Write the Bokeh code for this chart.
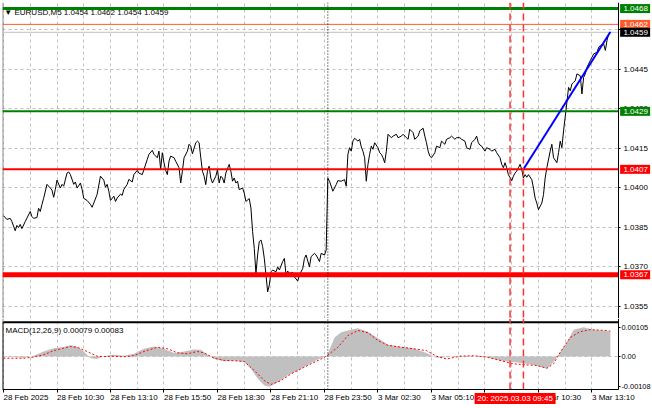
from bokeh.plotting import figure
from bokeh.models import Range1d, FixedTicker, Span, PrintfTickFormatter, CustomJSTickFormatter
from bokeh.layouts import column
from bokeh.embed import file_html
from bokeh.resources import INLINE
from bokeh.core.properties import value

FONT = "Liberation Sans"
FS = "8px"

# ---- price series (M5 bar index from 28 Feb 07:50, close) ----
bar_idx = [0, 2, 4, 5, 7, 8, 9, 10, 11, 13, 14, 16, 17, 18, 20, 21, 22, 23, 24, 26,
           28, 29, 30, 31, 32, 34, 35, 36, 38, 39, 40, 42, 43, 44, 46, 47, 48, 50, 52, 53,
           54, 56, 58, 60, 61, 62, 63, 64, 66, 67, 68, 70, 71, 72, 74, 75, 77, 78, 80, 81,
           83, 84, 86, 87, 89, 90, 92, 93, 94, 95, 96, 97, 98, 99, 100, 102, 103, 105, 106, 107,
           108, 110, 111, 112, 113, 115, 116, 117, 118, 119, 120, 121, 122, 123, 124, 125, 127, 128, 129, 130,
           131, 132, 133, 135, 136, 137, 138, 139, 140, 141, 143, 144, 145, 147, 148, 149, 150, 151, 152, 153,
           154, 155, 156, 157, 158, 159, 160, 161, 163, 164, 165, 167, 168, 169, 170, 171, 173, 174, 176, 177,
           179, 180, 181, 183, 184, 186, 187, 189, 190, 192, 193, 194, 195, 197, 199, 200, 202, 204, 205, 206,
           207, 208, 209, 210, 212, 213, 214, 215, 216, 217, 218, 219, 220, 221, 222, 224, 225, 226, 227, 228,
           229, 230, 232, 233, 235, 236, 238, 239, 241, 242, 243, 245, 246, 248, 249, 251, 252, 253, 254, 255,
           256, 258, 259, 261, 262, 264, 265, 267, 268, 270, 271, 273, 274, 276, 277, 279, 280, 282, 283, 284,
           285, 286, 288, 289, 291, 292, 294, 295, 297, 298, 299, 300, 301, 302, 304, 305, 306, 307, 308, 309,
           310, 311, 312, 313, 314, 316, 317, 318, 319, 320, 322, 323, 324, 325, 327, 328, 329, 331, 332, 333,
           334, 335, 337, 338, 339, 340, 341, 342, 343, 345, 346, 347, 348, 349, 351, 352, 353, 355, 356, 357,
           359, 360, 361, 362, 363]
close = [1.03894, 1.03880, 1.03884, 1.03872, 1.03837, 1.03857, 1.03849, 1.03861, 1.03845, 1.03872,
         1.03885, 1.03910, 1.03891, 1.03884, 1.03887, 1.03922, 1.03910, 1.03937, 1.03960, 1.04013,
         1.03999, 1.03991, 1.03964, 1.03994, 1.04029, 1.03999, 1.04013, 1.04006, 1.04056, 1.04060,
         1.04050, 1.04013, 1.04022, 1.03999, 1.04018, 1.03994, 1.03960, 1.03952, 1.03937, 1.03926,
         1.03942, 1.03975, 1.04044, 1.04029, 1.04002, 1.04013, 1.03987, 1.03952, 1.03968, 1.03948,
         1.03961, 1.03976, 1.03971, 1.03994, 1.04013, 1.04032, 1.04022, 1.04050, 1.04066, 1.04056,
         1.04050, 1.04069, 1.04108, 1.04127, 1.04142, 1.04127, 1.04114, 1.04139, 1.04069, 1.04133,
         1.04095, 1.04066, 1.04050, 1.04101, 1.04120, 1.04114, 1.04101, 1.04076, 1.04018, 1.04063,
         1.04114, 1.04139, 1.04165, 1.04158, 1.04129, 1.04171, 1.04177, 1.04171, 1.04114, 1.04063,
         1.04044, 1.04012, 1.04063, 1.04082, 1.04037, 1.04018, 1.04044, 1.04069, 1.04018, 1.04044,
         1.04037, 1.04018, 1.04056, 1.04089, 1.04063, 1.04025, 1.04037, 1.04018, 1.04025, 1.03993,
         1.03999, 1.03980, 1.03948, 1.03959, 1.03923, 1.03834, 1.03770, 1.03675, 1.03745, 1.03796,
         1.03802, 1.03777, 1.03732, 1.03669, 1.03605, 1.03631, 1.03681, 1.03688, 1.03681, 1.03700,
         1.03688, 1.03720, 1.03732, 1.03669, 1.03684, 1.03675, 1.03679, 1.03662, 1.03646, 1.03669,
         1.03694, 1.03732, 1.03745, 1.03700, 1.03739, 1.03751, 1.03745, 1.03720, 1.03751, 1.03745,
         1.03764, 1.04037, 1.04025, 1.03987, 1.04012, 1.04027, 1.04025, 1.04031, 1.04006, 1.04127,
         1.04152, 1.04139, 1.04177, 1.04188, 1.04177, 1.04184, 1.04155, 1.04139, 1.04114, 1.04025,
         1.04089, 1.04127, 1.04158, 1.04146, 1.04171, 1.04152, 1.04133, 1.04127, 1.04114, 1.04095,
         1.04139, 1.04203, 1.04190, 1.04196, 1.04203, 1.04190, 1.04196, 1.04203, 1.04190, 1.04184,
         1.04222, 1.04209, 1.04184, 1.04196, 1.04216, 1.04226, 1.04196, 1.04171, 1.04139, 1.04120,
         1.04114, 1.04133, 1.04158, 1.04152, 1.04177, 1.04165, 1.04184, 1.04190, 1.04196, 1.04184,
         1.04190, 1.04190, 1.04184, 1.04177, 1.04152, 1.04146, 1.04171, 1.04184, 1.04196, 1.04171,
         1.04162, 1.04158, 1.04139, 1.04152, 1.04146, 1.04139, 1.04146, 1.04133, 1.04114, 1.04089,
         1.04076, 1.04095, 1.04076, 1.04050, 1.04027, 1.04044, 1.04056, 1.04063, 1.04076, 1.04089,
         1.04069, 1.04037, 1.04050, 1.04040, 1.04050, 1.04031, 1.03999, 1.03961, 1.03942, 1.03917,
         1.03942, 1.03974, 1.04037, 1.04076, 1.04139, 1.04165, 1.04114, 1.04095, 1.04133, 1.04177,
         1.04152, 1.04216, 1.04324, 1.04381, 1.04368, 1.04394, 1.04400, 1.04406, 1.04432, 1.04425,
         1.04356, 1.04419, 1.04432, 1.04457, 1.04483, 1.04495, 1.04508, 1.04514, 1.04533, 1.04540,
         1.04546, 1.04521, 1.04559, 1.04585, 1.04590]

# ---- trend line ----
trend_idx = [311, 363]
trend_price = [1.04070, 1.04591]

# ---- MACD (12,26,9) ----
macd_idx = [0, 6, 12, 18, 24, 30, 36, 40, 44, 48, 52, 56, 60, 66, 72, 78, 84, 90, 96, 102,
            108, 114, 118, 122, 126, 132, 138, 144, 148, 152, 156, 159, 164, 170, 176, 182, 188, 193, 194, 198,
            202, 206, 212, 218, 224, 230, 238, 245, 253, 259, 265, 273, 281, 289, 297, 305, 313, 319, 325, 329,
            333, 337, 341, 347, 353, 361, 363]
macd_val = [-0.00002, -0.00002, -0.00004, 0.00003, 0.00018, 0.00030, 0.00034, 0.00040, 0.00036, 0.00018,
            -0.00006, -0.00009, 0.00001, 0.00006, 0.00003, 0.00010, 0.00028, 0.00036, 0.00028, 0.00013,
            0.00018, 0.00025, 0.00024, 0.00006, -0.00009, -0.00017, -0.00014, -0.00020, -0.00044, -0.00079,
            -0.00104, -0.00108, -0.00092, -0.00067, -0.00050, -0.00030, -0.00011, 0.00001, 0.00010, 0.00068,
            0.00087, 0.00093, 0.00101, 0.00089, 0.00065, 0.00042, 0.00035, 0.00030, 0.00013, -0.00004,
            -0.00003, 0.00003, 0.00001, -0.00003, -0.00014, -0.00020, -0.00026, -0.00032, -0.00044, -0.00020,
            0.00015, 0.00051, 0.00096, 0.00105, 0.00096, 0.00091, 0.00086]
signal_idx = [0, 12, 18, 24, 30, 36, 40, 44, 50, 56, 60, 66, 72, 78, 84, 92, 98, 104, 110, 116,
              120, 126, 132, 138, 144, 150, 156, 160, 166, 172, 178, 184, 190, 193, 200, 206, 212, 218, 224, 230,
              238, 245, 253, 259, 265, 273, 281, 289, 297, 305, 313, 319, 325, 329, 333, 339, 345, 351, 361, 363]
signal_val = [-0.00006, -0.00006, -0.00002, 0.00006, 0.00021, 0.00030, 0.00036, 0.00033, 0.00018, 0.00001,
              0.00000, 0.00001, -0.00001, 0.00003, 0.00018, 0.00033, 0.00028, 0.00013, 0.00010, 0.00018,
              0.00013, -0.00006, -0.00014, -0.00015, -0.00018, -0.00050, -0.00086, -0.00100, -0.00086, -0.00062,
              -0.00044, -0.00026, -0.00009, 0.00001, 0.00033, 0.00075, 0.00093, 0.00085, 0.00057, 0.00040,
              0.00033, 0.00028, 0.00021, 0.00001, -0.00009, 0.00001, 0.00003, -0.00002, -0.00014, -0.00026,
              -0.00030, -0.00032, -0.00042, -0.00026, 0.00015, 0.00068, 0.00089, 0.00096, 0.00093, 0.00090]

# ---- axes ----
time_tick_idx = [0, 32, 64, 96, 128, 160, 192, 224, 256, 288, 320, 352]
time_tick_labels = ["28 Feb 2025", "28 Feb 10:30", "28 Feb 13:10", "28 Feb 15:50", "28 Feb 18:30",
                    "28 Feb 21:10", "28 Feb 23:50", "3 Mar 02:30", "3 Mar 05:10", "3 Mar 07:50",
                    "3 Mar 10:30", "3 Mar 13:10"]
price_ticks = [1.0355, 1.0370, 1.0385, 1.0400, 1.0415, 1.0430, 1.0445, 1.0460]
macd_ticks = [-0.00108, 0.0, 0.00105]

# ---- horizontal levels ----
level_prices = [1.0468, 1.0462, 1.0459, 1.0429, 1.0407, 1.0367]
level_texts = ["1.0468", "1.0462", "1.0459", "1.0429", "1.0407", "1.0367"]
level_colors = ["#008000", "#ff5a2a", "#c0c0c0", "#008000", "#ff0000", "#ff0000"]
level_widths = [3, 1, 1, 2, 2, 5]
level_box_colors = ["#008000", "#ff5a2a", "#000000", "#008000", "#ff0000", "#ff0000"]

separator_idx = 194
marker_idx = [303, 311]
cursor_idx = 306
cursor_text = "20: 2025.03.03 09:45"
title_text = "\u25bc EURUSD,M5  1.0454 1.0462 1.0454 1.0459"
macd_text = "MACD(12,26,9) 0.00079 0.00083"

# ---- layout constants ----
X0, X_END = -0.6, 388.2      # frames span the whole width, scales drawn inside
AXIS_IDX = 367.8             # where the right-hand scale line sits
BOX_DX = 10.0                # price box centre offset (bars) right of the scale line
P_LO, P_HI = 1.03504, 1.04703
M_LO, M_HI = -0.00186, 0.00136
M_PANEL_LO = -0.00118        # bottom edge of MACD pane
M_PANEL_HI = 0.00123         # separator between price pane and MACD pane
GRID = "#c0c0c0"
GRID_X = list(range(0, 368, 16))


def base(p):
    p.background_fill_color = "white"
    p.border_fill_color = "white"
    p.outline_line_color = None
    p.grid.grid_line_color = GRID
    p.grid.grid_line_dash = "3 3"
    p.grid.grid_line_width = 1
    p.xgrid.ticker = FixedTicker(ticks=GRID_X)


def style_axis(ax, size=FS):
    ax.axis_line_color = "black"
    ax.major_tick_line_color = "black"
    ax.major_tick_in = 0
    ax.minor_tick_line_color = None
    ax.major_label_text_font = FONT
    ax.major_label_text_font_size = size
    ax.major_label_text_color = "black"


# ================= main price pane =================
top = figure(width=652, height=318, x_range=Range1d(X0, X_END), y_range=Range1d(P_LO, P_HI),
             y_axis_location="right", toolbar_location=None, output_backend="svg",
             min_border_left=2, min_border_right=0, min_border_top=2, min_border_bottom=0)
base(top)
top.xaxis.visible = False
top.ygrid.ticker = FixedTicker(ticks=price_ticks)
ya = top.yaxis[0]
ya.ticker = FixedTicker(ticks=price_ticks)
ya.formatter = PrintfTickFormatter(format="%.4f")
ya.fixed_location = AXIS_IDX
style_axis(ya)
ya.major_tick_out = 2
ya.major_label_standoff = 3

top.quad(left=[AXIS_IDX], right=[X_END + 5], bottom=[P_LO - 1], top=[P_HI + 1],
         fill_color="white", line_color=None)
top.text(x=[0.5], y=[1.04666], text=[title_text], text_font=value(FONT), text_font_size=FS,
         text_color="black", text_baseline="middle", text_align="left")
top.segment(x0=[X0], y0=[P_LO], x1=[X0], y1=[P_HI], line_color="#909090", line_width=2)
top.line(bar_idx, close, line_color="black", line_width=1)
top.segment(x0=X0, y0=level_prices, x1=AXIS_IDX, y1=level_prices, line_color=level_colors,
            line_width=level_widths)
top.line(trend_idx, trend_price, line_color="#0000ff", line_width=2)
top.add_layout(Span(location=separator_idx, dimension="height", line_color="black",
                    line_dash="1 2", line_width=1))
for m in marker_idx:
    top.add_layout(Span(location=m, dimension="height", line_color="#ff3030",
                        line_dash="7 4", line_width=1.5))
top.rect(x=AXIS_IDX + BOX_DX, y=level_prices, width=30, height=9, width_units="screen",
         height_units="screen", fill_color=level_box_colors, line_color=None, level="overlay")
top.text(x=AXIS_IDX, y=level_prices, text=level_texts, x_offset=5, text_font=value(FONT),
         text_font_size=FS, text_color="white", text_baseline="middle", text_align="left",
         level="overlay")

# ================= MACD pane =================
bottom = figure(width=652, height=90, x_range=top.x_range, y_range=Range1d(M_LO, M_HI),
                y_axis_location="right", toolbar_location=None, output_backend="svg",
                min_border_left=2, min_border_right=0, min_border_top=0, min_border_bottom=0)
base(bottom)
bottom.ygrid.ticker = FixedTicker(ticks=[0.0])
yb = bottom.yaxis[0]
yb.ticker = FixedTicker(ticks=macd_ticks)
yb.formatter = CustomJSTickFormatter(code="return tick == 0 ? '0.00' : tick.toFixed(5);")
yb.fixed_location = AXIS_IDX
yb.bounds = (M_PANEL_LO, M_HI)
style_axis(yb, "7.4px")
yb.major_tick_out = 2
yb.major_label_standoff = 1

xa = bottom.xaxis[0]
xa.ticker = FixedTicker(ticks=time_tick_idx)
xa.major_label_overrides = dict(zip(time_tick_idx, time_tick_labels))
xa.fixed_location = M_PANEL_LO
xa.bounds = (X0, AXIS_IDX)
style_axis(xa)
xa.major_tick_out = 3
xa.major_label_standoff = 5
xa.major_label_orientation = -0.0001

bottom.quad(left=[AXIS_IDX], right=[X_END + 5], bottom=[M_LO - 1], top=[M_HI + 1],
            fill_color="white", line_color=None)
bottom.quad(left=[X0 - 5], right=[X_END + 5], bottom=[M_LO - 1], top=[M_PANEL_LO],
            fill_color="white", line_color=None)
bottom.segment(x0=[X0], y0=[M_PANEL_HI], x1=[AXIS_IDX], y1=[M_PANEL_HI], line_color="black",
               line_width=2)
bottom.segment(x0=[X0], y0=[M_PANEL_LO], x1=[X0], y1=[M_PANEL_HI], line_color="black", line_width=2)
bottom.segment(x0=[X0], y0=[M_PANEL_HI], x1=[X0], y1=[M_HI], line_color="#909090", line_width=2)
bottom.varea(x=macd_idx, y1=0, y2=macd_val, fill_color="#c0c0c0")
bottom.line(signal_idx, signal_val, line_color="#ff0000", line_dash="2 2", line_width=1)
bottom.text(x=[1.2], y=[0.00093], text=[macd_text], text_font=value(FONT), text_font_size=FS,
            text_color="black", text_baseline="middle", text_align="left")
bottom.segment(x0=[separator_idx], y0=[M_PANEL_LO], x1=[separator_idx], y1=[M_HI],
               line_color="black", line_dash="1 2", line_width=1)
bottom.segment(x0=marker_idx, y0=M_PANEL_LO, x1=marker_idx, y1=M_HI,
               line_color="#ff3030", line_dash="7 4", line_width=1.5)
bottom.rect(x=[cursor_idx], y=[-0.00150], width=81, height=11, width_units="screen",
            height_units="screen", fill_color="#ff0000", line_color=None, level="overlay")
bottom.text(x=[cursor_idx], y=[-0.00150], text=[cursor_text], text_font=value(FONT),
            text_font_size=FS, text_color="white", text_baseline="middle", text_align="center",
            level="overlay")

layout = column(top, bottom, spacing=0)
open("out.html", "w").write(file_html(layout, INLINE))
